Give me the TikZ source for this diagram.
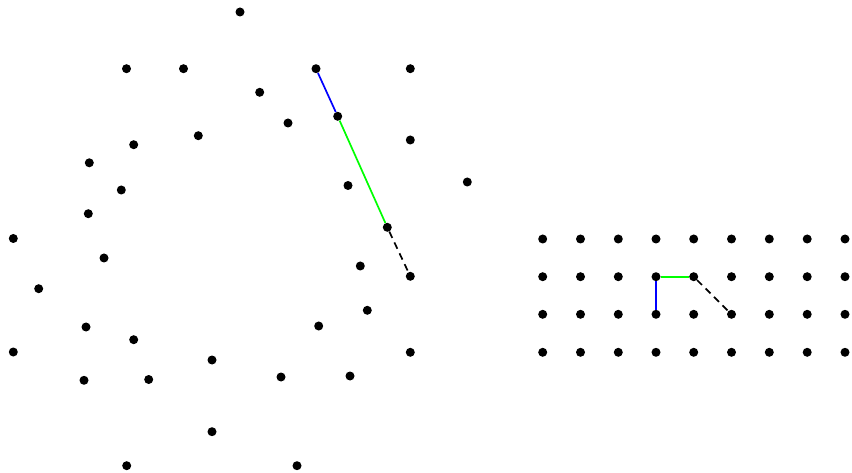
\documentclass[tikz,border=0pt]{standalone}
\begin{document}
\begin{tikzpicture}[x=1pt,y=-1pt,
  dot/.style={circle,fill=black,inner sep=0pt,minimum size=9pt},
  edgeline/.style={line width=1.7pt},
  dashline/.style={line width=1.7pt,dash pattern=on 7pt off 5pt}]
\useasboundingbox (0,0) rectangle (852,473);
% left cluster
\foreach \n/\x/\y in {
 a1/240/12, a2/126.5/68.7, a3/183.5/68.7, a4/316/68.7, a5/410.3/68.7,
 a6/259.7/92.3, a7/337.7/116.3, a8/288/123, a9/198.3/135.7, a10/133.7/144.7,
 a11/410.3/140, a12/89.3/162.8, a13/121.3/190, a14/348/185.5, a15/467.3/182,
 a16/88.3/213.7, a17/387.3/227.3, a18/13.3/238.5, a19/104/258, a20/360.3/266,
 a21/410.3/276.3, a22/38.7/288.7, a23/367.3/310.3, a24/86/327, a25/318.7/326,
 a26/133.7/339.7, a27/13.3/352, a28/410.3/352.3, a29/212/360, a30/84/380.3,
 a31/148.7/379.5, a32/281/377, a33/350/376, a34/212/431.7, a35/126.7/465.7,
 a36/297/465.7}
  \node[dot] (\n) at (\x,\y) {};
% right grid
\foreach \i/\x in {1/542.7,2/580.5,3/618.3,4/656,5/693.7,6/731.5,7/769.3,8/807.2,9/845}
  \foreach \j/\y in {1/239,2/276.7,3/314.3,4/352.3}
    \node[dot] (g\i\j) at (\x,\y) {};
% paths
\draw[edgeline,blue] (a4) -- (a7);
\draw[edgeline,green] (a7) -- (a17);
\draw[dashline] (a17) -- (a21);
\draw[edgeline,blue] (g43) -- (g42);
\draw[edgeline,green] (g42) -- (g52);
\draw[dashline] (g52) -- (g63);
\end{tikzpicture}
\end{document}
